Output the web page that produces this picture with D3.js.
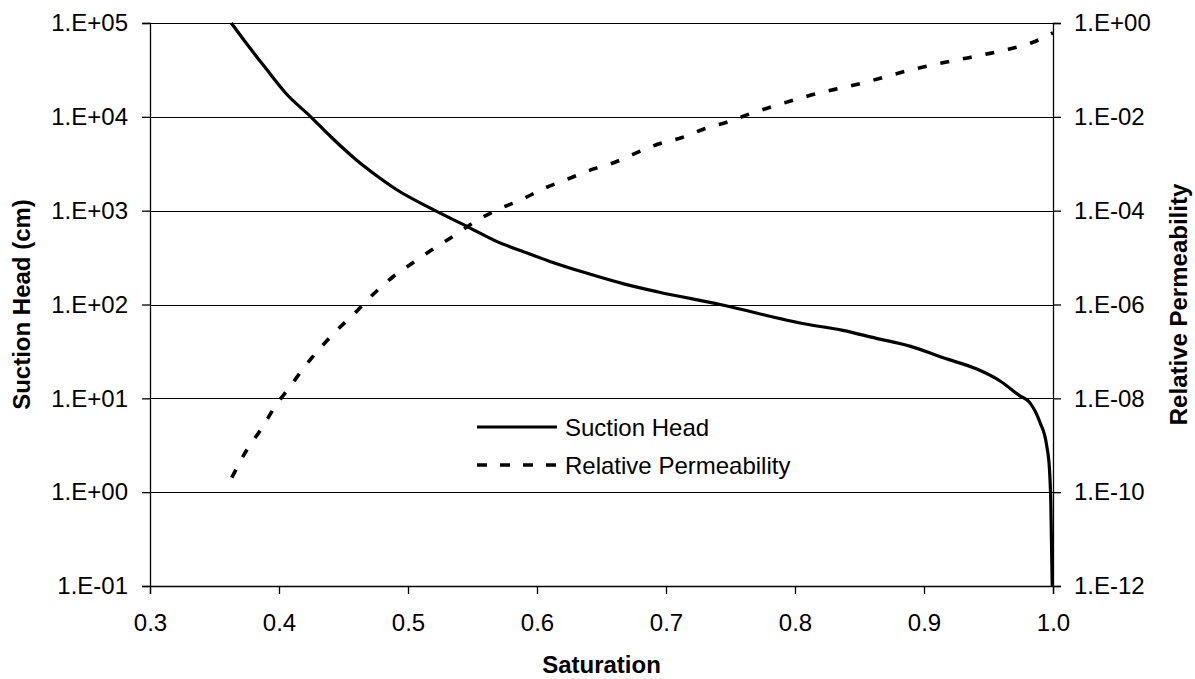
<!DOCTYPE html>
<html><head><meta charset="utf-8">
<script src="https://cdn.jsdelivr.net/npm/d3@7"></script>
<style>body{margin:0;background:#fff}svg{display:block;font-family:"Liberation Sans",Arial,sans-serif}</style>
</head><body>
<svg id="c" width="1195" height="679"></svg>
<script>
// ---- data ----
const suctionSat = [0.363,0.376,0.389,0.406,0.424,0.440,0.460,0.476,0.491,0.520,0.546,0.569,0.590,0.610,0.637,0.668,0.694,0.742,0.808,0.837,0.863,0.889,0.915,0.941,0.959,0.974,0.982,0.990,0.995,0.9973,0.9983,0.9994];
const suctionHead = [100000,57500,33900,17400,10200,6170,3470,2340,1680,1020,676,468,363,288,219,165,136,100,62,53,43.6,36,27,20.5,15.3,10.7,9.0,5.5,3.2,1.73,0.78,0.1];
const permSat = [0.3634,0.375,0.3866,0.397,0.4086,0.4195,0.4319,0.4448,0.459,0.472,0.4875,0.5043,0.5198,0.5353,0.5534,0.5702,0.5883,0.6051,0.6245,0.6439,0.6593,0.6761,0.693,0.7125,0.7293,0.7488,0.7656,0.7838,0.8019,0.8201,0.8383,0.8564,0.8746,0.8927,0.9109,0.9291,0.9472,0.9654,0.9836,1.0];
const relPerm = [2.04e-10,7.94e-10,2.29e-9,6.76e-9,1.78e-8,4.57e-8,1.17e-7,2.82e-7,6.61e-7,1.55e-6,3.72e-6,7.94e-6,1.55e-5,2.88e-5,6.17e-5,1.07e-4,1.74e-4,2.95e-4,4.79e-4,7.76e-4,1.05e-3,1.66e-3,2.57e-3,3.63e-3,5.50e-3,7.94e-3,1.17e-2,1.70e-2,2.40e-2,3.31e-2,4.27e-2,5.62e-2,7.76e-2,0.105,0.135,0.170,0.214,0.275,0.380,0.617];
const xTicks = [0.3,0.4,0.5,0.6,0.7,0.8,0.9,1.0];
const leftTicks = [1e-1,1e0,1e1,1e2,1e3,1e4,1e5];
const rightTicks = [1e-12,1e-10,1e-8,1e-6,1e-4,1e-2,1e0];
const seriesNames = ["Suction Head","Relative Permeability"];
const xTitle = "Saturation", yLTitle = "Suction Head (cm)", yRTitle = "Relative Permeability";

// ---- layout ----
const L=150, R=1053, T=23, B=586;
const svg = d3.select("#c");
const x = d3.scaleLinear().domain([0.3,1.0]).range([L,R]);
const yL = d3.scaleLog().domain([1e-1,1e5]).range([B,T]);
const yR = d3.scaleLog().domain([1e-12,1e0]).range([B,T]);

function expFmt(v){
  const e = Math.round(Math.log10(v));
  const s = e<0?"-":"+";
  const a = Math.abs(e);
  return "1.E"+s+(a<10?"0":"")+a;
}

// gridlines
svg.append("g").selectAll("line").data(leftTicks).join("line")
  .attr("x1",L).attr("x2",R).attr("y1",d=>Math.round(yL(d))+0.5).attr("y2",d=>Math.round(yL(d))+0.5)
  .attr("stroke","#000").attr("stroke-width",1);

const fs = "24px";
// axes
const gx = svg.append("g").attr("transform",`translate(0,${B})`)
  .call(d3.axisBottom(x).tickValues(xTicks).tickSize(8).tickPadding(20).tickFormat(d3.format(".1f")));
const gl = svg.append("g").attr("transform",`translate(${L},0)`)
  .call(d3.axisLeft(yL).tickValues(leftTicks).tickSize(8).tickPadding(14).tickFormat(expFmt));
const gr = svg.append("g").attr("transform",`translate(${R},0)`)
  .call(d3.axisRight(yR).tickValues(rightTicks).tickSize(8).tickPadding(13).tickFormat(expFmt));
[gx,gl,gr].forEach(g=>{
  g.selectAll("text").attr("font-size",fs).attr("fill","#000").attr("font-family","Liberation Sans, Arial, sans-serif");
  g.selectAll("line,path").attr("stroke","#000").attr("stroke-width",1.3);
});

// clip
svg.append("clipPath").attr("id","clip").append("rect").attr("x",L).attr("y",T-2).attr("width",R-L+2).attr("height",B-T+2);

const lineS = d3.line().curve(d3.curveMonotoneX).x(d=>x(d[0])).y(d=>yL(d[1]));
const lineP = d3.line().curve(d3.curveMonotoneX).x(d=>x(d[0])).y(d=>yR(d[1]));
const plot = svg.append("g").attr("clip-path","url(#clip)");
plot.append("path").datum(suctionSat.map((s,i)=>[s,suctionHead[i]]))
  .attr("d",lineS).attr("fill","none").attr("stroke","#000").attr("stroke-width",3.2).attr("stroke-linejoin","round");
plot.append("path").datum(permSat.map((s,i)=>[s,relPerm[i]]))
  .attr("d",lineP).attr("fill","none").attr("stroke","#000").attr("stroke-width",3.6).attr("stroke-dasharray","9,14");

// legend
const lg = svg.append("g");
const legY = [427,465];
lg.selectAll("line").data(seriesNames).join("line")
  .attr("x1",477).attr("x2",557).attr("y1",(d,i)=>legY[i]).attr("y2",(d,i)=>legY[i])
  .attr("stroke","#000").attr("stroke-width",(d,i)=>i?3.6:3.2)
  .attr("stroke-dasharray",(d,i)=>i?"10,13":null);
lg.selectAll("text").data(seriesNames).join("text")
  .attr("x",565).attr("y",(d,i)=>legY[i]+8.5).attr("font-size",fs).text(d=>d);

// titles
svg.append("text").attr("x",(L+R)/2).attr("y",673).attr("text-anchor","middle")
  .attr("font-size",fs).attr("font-weight","bold").text(xTitle);
svg.append("text").attr("transform",`translate(30,${(T+B)/2}) rotate(-90)`).attr("text-anchor","middle")
  .attr("font-size",fs).attr("font-weight","bold").text(yLTitle);
svg.append("text").attr("transform",`translate(1187,${(T+B)/2}) rotate(-90)`).attr("text-anchor","middle")
  .attr("font-size",fs).attr("font-weight","bold").text(yRTitle);
</script>
</body></html>
